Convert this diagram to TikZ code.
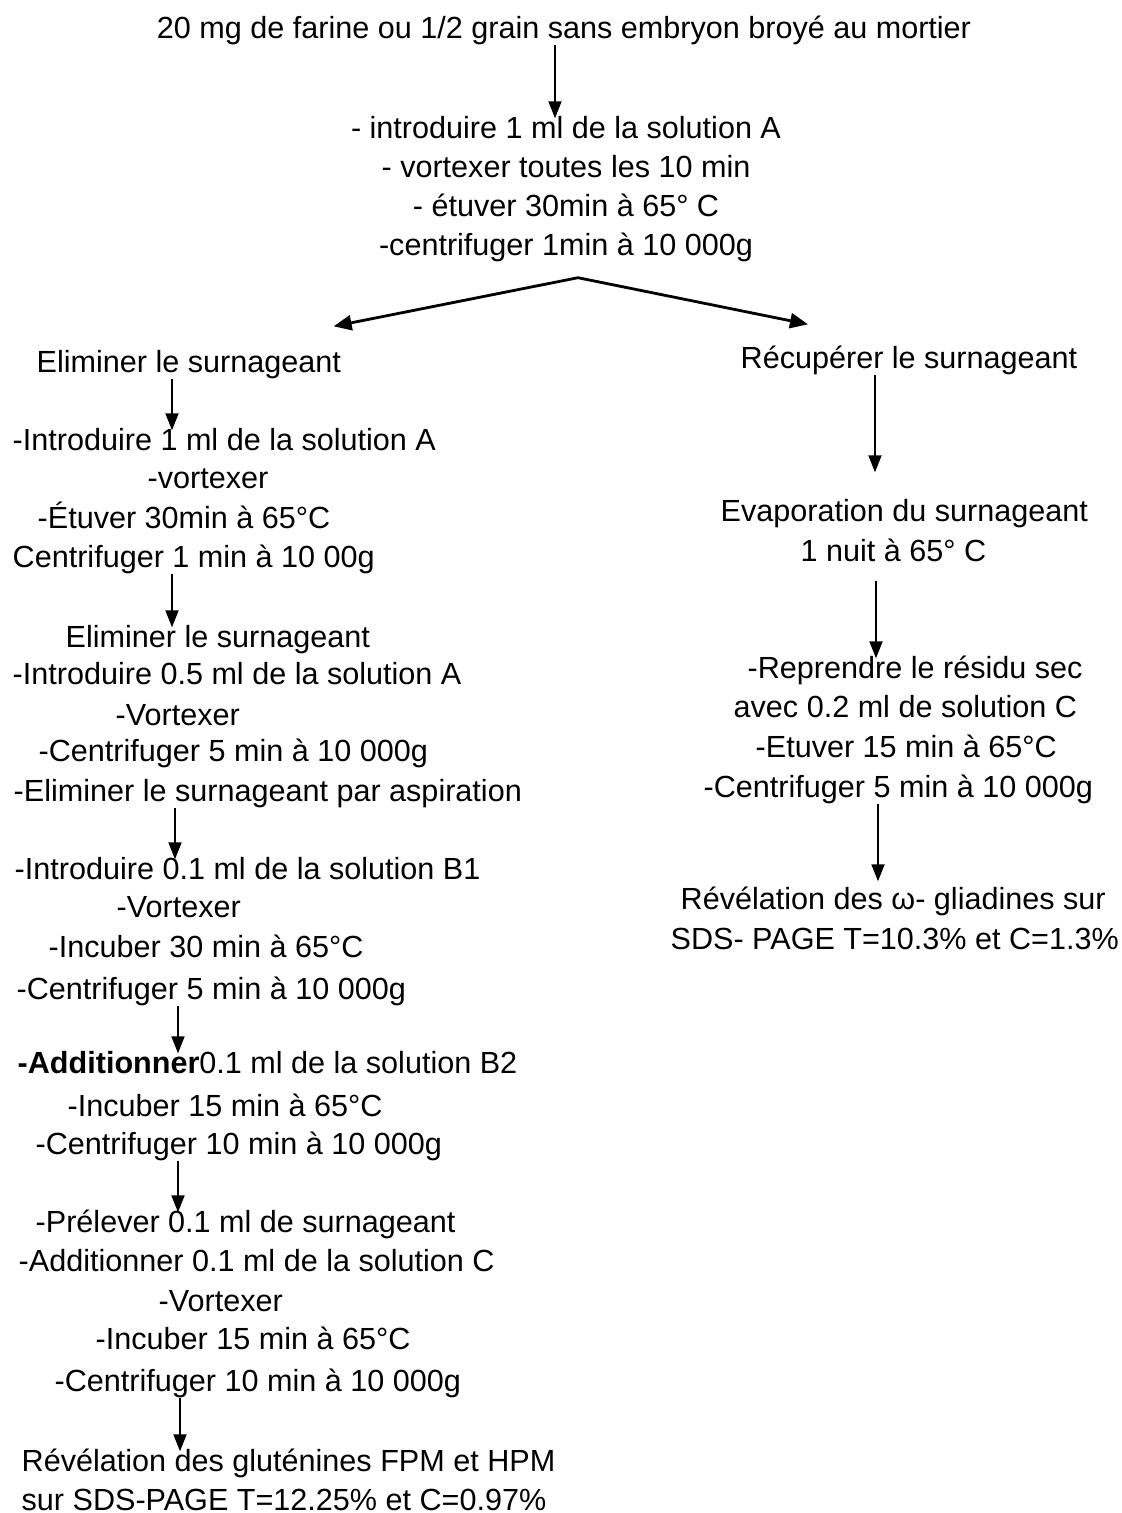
\documentclass[tikz,border=0pt]{standalone}
\usepackage{fontspec}
\setmainfont{Liberation Sans}
\usetikzlibrary{arrows.meta}

\tikzset{
  line/.style={anchor=base west,inner sep=0pt,text height=2.2mm,text depth=0.6mm,
    font=\fontsize{8.7pt}{11pt}\selectfont},
  mid/.style={line,anchor=base},
  arr/.style={line width=0.55pt,shorten >=-0.3mm,-{Triangle[length=1.7mm,width=1.3mm]}},
  fork/.style={line width=0.8pt,{Triangle[length=1.8mm,width=1.5mm]}-{Triangle[length=1.8mm,width=1.5mm]}}
}

\begin{document}
\begin{tikzpicture}[x=0.1mm,y=-0.1mm]
  \useasboundingbox (0,0) rectangle (1122,1513);
  %% Sample and first extraction
  \node[mid] (start) at (564,38) {20 mg de farine ou 1/2 grain sans embryon broyé au mortier};
  \foreach \y/\t [count=\i] in {138/{- introduire 1 ml de la solution A},
      177/{- vortexer toutes les 10 min}, 216/{- étuver 30min à 65° C},
      255/{-centrifuger 1min à 10 000g}} {
    \node[mid] (t\i) at (566,\y) {\t};
  }
  \draw[arr] (start.south -| 555,0) -- (t1.north -| 555,0);
  %% Left column: pellet
  \foreach \x/\y/\t [count=\i] in {36/372/{Eliminer le surnageant},
      12/450/{-Introduire 1 ml de la solution A}, 147/488/{-vortexer},
      37/528/{-Étuver 30min à 65°C}, 12/567/{Centrifuger 1 min à 10 00g},
      65/647/{Eliminer le surnageant}, 12/684/{-Introduire 0.5 ml de la solution A},
      115/725/{-Vortexer}, 38/761/{-Centrifuger 5 min à 10 000g},
      13/801/{-Eliminer le surnageant par aspiration},
      14/879/{-Introduire 0.1 ml de la solution B1}, 116/917/{-Vortexer},
      48/957/{-Incuber 30 min à 65°C}, 16/999/{-Centrifuger 5 min à 10 000g},
      17/1073/{{\bfseries -Additionner}0.1 ml de la solution B2},
      67/1116/{-Incuber 15 min à 65°C}, 35/1154/{-Centrifuger 10 min à 10 000g},
      35/1232/{-Prélever 0.1 ml de surnageant},
      18/1271/{-Additionner 0.1 ml de la solution C}, 158/1311/{-Vortexer},
      95/1349/{-Incuber 15 min à 65°C}, 54/1391/{-Centrifuger 10 min à 10 000g},
      21/1471/{Révélation des gluténines FPM et HPM},
      21/1510/{sur SDS-PAGE T=12.25\% et C=0.97\%}} {
    \node[line] (l\i) at (\x,\y) {\t};
  }
  %% Right column: supernatant
  \foreach \x/\y/\t [count=\i] in {740/368/{Récupérer le surnageant},
      720/521/{Evaporation du surnageant}, 800/561/{1 nuit à 65° C},
      747/678/{-Reprendre le résidu sec}, 733/717/{avec 0.2 ml de solution C},
      755/757/{-Etuver 15 min à 65°C}, 703/797/{-Centrifuger 5 min à 10 000g},
      680/909/{Révélation des ω- gliadines sur},
      670/949/{SDS- PAGE T=10.3\% et C=1.3\%}} {
    \node[line] (r\i) at (\x,\y) {\t};
  }
  %% Split
  \coordinate (split) at ([xshift=1.2mm,yshift=-1.6mm]t4.south);
  \draw[fork] ([xshift=-0.8mm,yshift=2.3mm]l1.north east) -- (split)
    -- ([xshift=6.8mm,yshift=2.1mm]r1.north west);
  %% Arrows
  \foreach \a/\b/\x in {l1/l2/172, l5/l6/172, l10/l11/175, l14/l15/178,
      l17/l18/178, l22/l23/180} {
    \draw[arr] (\a.south -| \x,0) -- (\b.north -| \x,0);
  }
  \draw[arr,shorten >=2.6mm] (r1.south -| 875,0) -- (r2.north -| 875,0);
  \draw[arr,shorten <=1.3mm] (r3.south -| 876,0) -- (r4.north -| 876,0);
  \draw[arr,shorten >=0.5mm] (r7.south -| 878,0) -- (r8.north -| 878,0);
\end{tikzpicture}
\end{document}
